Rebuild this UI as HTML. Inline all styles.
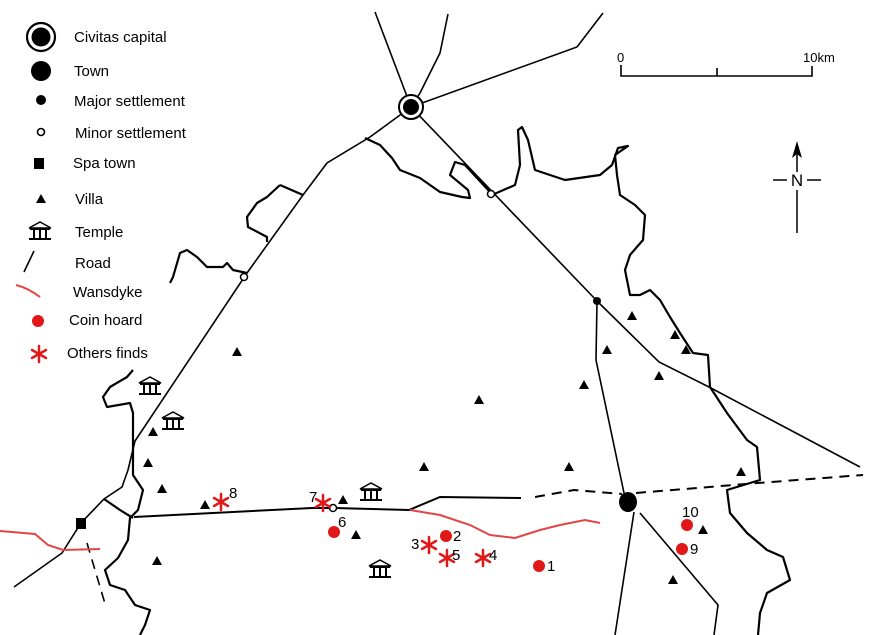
<!DOCTYPE html>
<html><head><meta charset="utf-8"><style>
html,body{margin:0;padding:0;background:#fff;}
svg{display:block;}
text{font-family:"Liberation Sans",Arial,sans-serif;}
</style></head><body>
<svg width="871" height="635" viewBox="0 0 871 635" xmlns="http://www.w3.org/2000/svg">
<defs>
<g id="tri"><polygon points="0,-5 5,4 -5,4" fill="#000"/></g>
<g id="tmp"><polygon points="-11,-3 0,-9 11,-3" fill="none" stroke="#000" stroke-width="1.5"/><rect x="-10" y="-3" width="20" height="2" fill="#000"/><rect x="-7" y="-1" width="2" height="8" fill="#000"/><rect x="-1" y="-1" width="2" height="8" fill="#000"/><rect x="5" y="-1" width="2" height="8" fill="#000"/><rect x="-11" y="7" width="22" height="2" fill="#000"/></g>
<g id="star" stroke="#e01818" stroke-width="2.5" stroke-linecap="round"><line x1="0" y1="-8" x2="0" y2="8"/><line x1="-7" y1="-4" x2="7" y2="4"/><line x1="-7" y1="4" x2="7" y2="-4"/></g>
</defs>
<rect width="871" height="635" fill="#fff"/>

<!-- rivers -->
<g fill="none" stroke="#000" stroke-width="2.2" stroke-linejoin="round">
<path d="M365,138 L380,145 L392,158 L400,170 L420,178 L440,192 L462,197 L470,198 L468,190 L450,175 L455,162 L465,165 L490,192"/>
<path d="M492,195 L515,185 L520,165 L518,130 L522,127 L528,140 L535,170 L550,175 L565,180 L600,175 L612,165 L618,148 L628,146 L615,155 L617,175 L620,195 L635,205 L645,215 L643,240 L630,255 L625,270 L630,295 L640,295 L650,290 L660,300 L670,317 L680,333 L693,353 L708,355 L710,387 L727,413 L747,440 L757,447 L760,480 L727,490 L730,513 L747,533 L767,550 L783,557 L790,580 L767,593 L760,613 L758,635"/>
<path d="M170,283 L173,277 L180,253 L187,250 L197,257 L207,267 L223,267 L227,263 L233,270 L247,273"/>
<path d="M280,185 L303,195 M280,185 L267,197 L257,203 L247,217 L248,227 L267,237 L267,242"/>
<path d="M133,370 L127,377 L110,387 L103,397 L107,407 L130,403 L133,413 L133,443 L133,475 L143,490 L138,510 L130,518 L128,540 L118,558 L105,570 L110,585 L125,590 L135,605 L150,610 L145,625 L140,635"/>
<path d="M104,499 L120,510 L133,518"/>
</g>

<!-- roads -->
<g fill="none" stroke="#000" stroke-width="1.6">
<path d="M411,107 L375,12"/>
<path d="M411,107 L420,93 L440,53 L448,14"/>
<path d="M411,107 L577,47 L603,13"/>
<path d="M411,107 L370,137 L327,163 L303,195 L247,273 L135,441 L128,470 L122,487 L104,499 L81,523 L62,553 L14,587"/>
<path d="M411,107 L597,301"/>
<path d="M597,301 L659,362 L709,387 L860,467"/>
<path d="M597,301 L596,360 L624,493"/>
<path d="M634,512 L615,635"/>
<path d="M640,513 L718,605 L714,635"/>
<path d="M134,517 L312,508 L334,508 L409,510 L440,497 L521,498" stroke-width="2"/>
<path d="M535,497 L574,490 L622,494 M636,493 L758,483 L863,475" stroke-dasharray="10,7" stroke-width="2"/>
<path d="M87,543 L106,607" stroke-dasharray="10,7"/>
</g>

<!-- Wansdyke -->
<g fill="none" stroke="#e24545" stroke-width="2">
<path d="M0,531 L35,534 L48,545 L63,550 L100,549"/>
<path d="M410,510 L440,515 L470,525 L490,535 L515,538 L540,530 L560,525 L585,520 L600,523"/>
</g>

<!-- settlements -->
<circle cx="411" cy="107" r="12" fill="#fff" stroke="#000" stroke-width="2"/>
<circle cx="411" cy="107" r="8" fill="#000"/>
<ellipse cx="628" cy="502" rx="9" ry="10" fill="#000"/>
<circle cx="597" cy="301" r="4" fill="#000"/>
<circle cx="491" cy="194" r="3.5" fill="#fff" stroke="#000" stroke-width="1.5"/>
<circle cx="244" cy="277" r="3.5" fill="#fff" stroke="#000" stroke-width="1.5"/>
<circle cx="333" cy="508" r="3.5" fill="#fff" stroke="#000" stroke-width="1.5"/>
<rect x="76" y="518" width="10" height="11" fill="#000"/>

<!-- villas -->
<g>
<use href="#tri" x="237" y="352"/><use href="#tri" x="153" y="432"/><use href="#tri" x="148" y="463"/>
<use href="#tri" x="162" y="489"/><use href="#tri" x="205" y="505"/><use href="#tri" x="343" y="500"/>
<use href="#tri" x="356" y="535"/><use href="#tri" x="157" y="561"/><use href="#tri" x="424" y="467"/>
<use href="#tri" x="479" y="400"/><use href="#tri" x="569" y="467"/><use href="#tri" x="584" y="385"/>
<use href="#tri" x="607" y="350"/><use href="#tri" x="632" y="316"/><use href="#tri" x="675" y="335"/>
<use href="#tri" x="686" y="350"/><use href="#tri" x="659" y="376"/><use href="#tri" x="741" y="472"/>
<use href="#tri" x="703" y="530"/><use href="#tri" x="673" y="580"/>
</g>
<use href="#tmp" x="150" y="386"/><use href="#tmp" x="173" y="421"/><use href="#tmp" x="371" y="492"/><use href="#tmp" x="380" y="569"/>

<!-- finds -->
<g fill="#e01818">
<circle cx="539" cy="566" r="6"/><circle cx="446" cy="536" r="6"/><circle cx="334" cy="532" r="6"/>
<circle cx="682" cy="549" r="6"/><circle cx="687" cy="525" r="6"/>
</g>
<use href="#star" x="221" y="502"/><use href="#star" x="323" y="503"/><use href="#star" x="429" y="545"/>
<use href="#star" x="447" y="558"/><use href="#star" x="483" y="558"/>
<g font-size="15" fill="#000">
<text x="229" y="498">8</text><text x="309" y="502">7</text><text x="338" y="527">6</text>
<text x="453" y="541">2</text><text x="411" y="549">3</text><text x="452" y="560">5</text>
<text x="489" y="560">4</text><text x="547" y="571">1</text><text x="682" y="517">10</text><text x="690" y="554">9</text>
</g>

<!-- legend -->
<circle cx="41" cy="37" r="14" fill="#fff" stroke="#000" stroke-width="2.2"/>
<circle cx="41" cy="37" r="9.5" fill="#000"/>
<circle cx="41" cy="71" r="10" fill="#000"/>
<circle cx="41" cy="100" r="5" fill="#000"/>
<circle cx="41" cy="132" r="3.5" fill="#fff" stroke="#000" stroke-width="1.6"/>
<rect x="34" y="158" width="10" height="11" fill="#000"/>
<use href="#tri" x="41" y="199"/>
<use href="#tmp" x="40" y="231"/>
<line x1="24" y1="272" x2="34" y2="251" stroke="#000" stroke-width="1.6"/>
<path d="M16,285 Q28,288 40,297" fill="none" stroke="#e24545" stroke-width="2"/>
<circle cx="38" cy="321" r="6" fill="#e01818"/>
<use href="#star" x="39" y="354"/>
<g font-size="15" fill="#000">
<text x="74" y="42">Civitas capital</text>
<text x="74" y="76">Town</text>
<text x="74" y="106">Major settlement</text>
<text x="75" y="138">Minor settlement</text>
<text x="73" y="168">Spa town</text>
<text x="75" y="204">Villa</text>
<text x="75" y="237">Temple</text>
<text x="75" y="268">Road</text>
<text x="73" y="297">Wansdyke</text>
<text x="69" y="325">Coin hoard</text>
<text x="67" y="358">Others finds</text>
</g>

<!-- scale bar -->
<path d="M621,65 L621,76 L812,76 L812,66 M717,68 L717,76" fill="none" stroke="#000" stroke-width="1.6"/>
<text x="617" y="62" font-size="13">0</text>
<text x="803" y="62" font-size="13">10km</text>

<!-- north arrow -->
<line x1="797" y1="150" x2="797" y2="172" stroke="#000" stroke-width="1.5"/>
<line x1="797" y1="190" x2="797" y2="233" stroke="#000" stroke-width="1.5"/>
<polygon points="797,141 792,158 797,154 802,158" fill="#000"/>
<line x1="773" y1="180" x2="787" y2="180" stroke="#000" stroke-width="1.5"/>
<line x1="807" y1="180" x2="821" y2="180" stroke="#000" stroke-width="1.5"/>
<text x="797" y="186" font-size="17" text-anchor="middle">N</text>
</svg>
</body></html>
